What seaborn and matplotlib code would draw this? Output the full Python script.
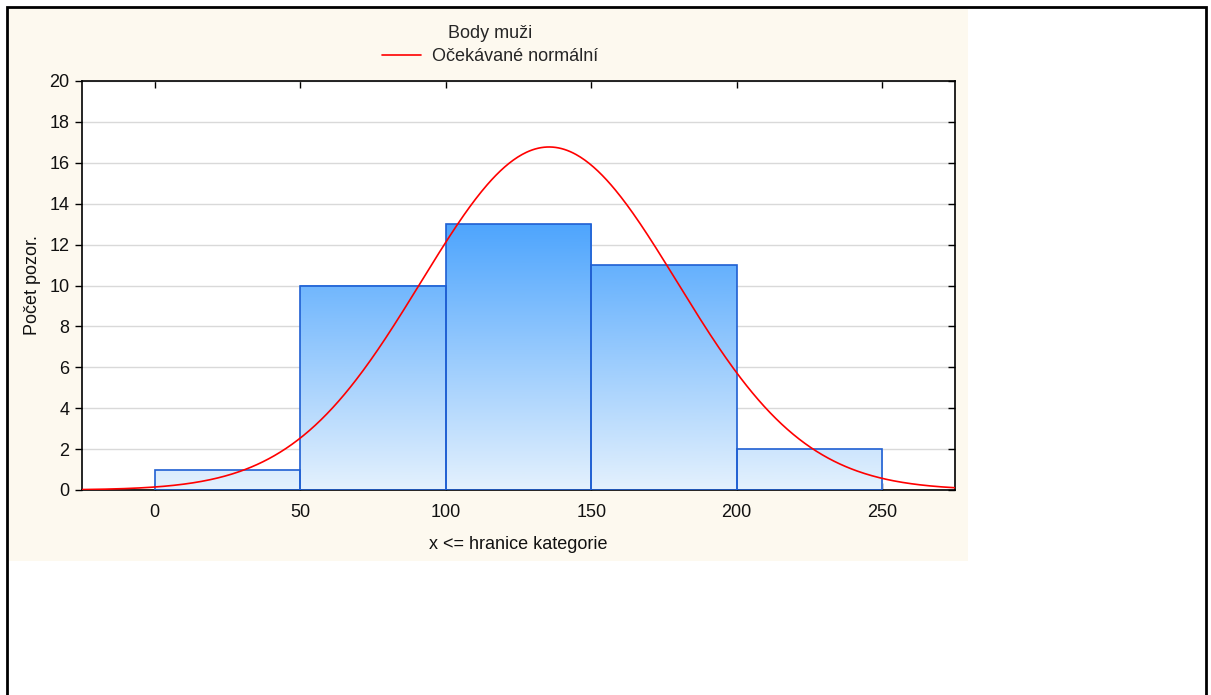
import numpy as np
import pandas as pd
import matplotlib
matplotlib.use("Agg")
import matplotlib.pyplot as plt
from matplotlib.patches import Rectangle
from matplotlib.colors import LinearSegmentedColormap
import seaborn as sns

# ---- data ----
bin_edges = [0, 50, 100, 150, 200, 250]
counts = [1, 10, 13, 11, 2]
n_obs = 37
norm_mean = 135.5
norm_sd = 44.0
x_ticks = [0, 50, 100, 150, 200, 250]
y_ticks = [0, 2, 4, 6, 8, 10, 12, 14, 16, 18, 20]
legend_title = "Body muži"
curve_label = "Očekávané normální"
x_label = "x <= hranice kategorie"
y_label = "Počet pozor."

sns.set_theme(style="white")
plt.rcParams['font.family'] = ['Liberation Sans', 'DejaVu Sans']

W, H = 1211, 695
FS = 13
fig = plt.figure(figsize=(W / 100, H / 100), dpi=100)
fig.patch.set_facecolor("white")

# cream panel + outer border
fig.patches.append(Rectangle((9 / W, 1 - 561 / H), (968 - 9) / W, (561 - 9) / H,
                             transform=fig.transFigure, facecolor="#fdf9ef",
                             edgecolor="none", zorder=-10))
fig.patches.append(Rectangle((7 / W, -0.05), (1206 - 7) / W, 1 - 7 / H + 0.05,
                             transform=fig.transFigure, facecolor="none",
                             edgecolor="black", linewidth=2.0, zorder=10, clip_on=False))

ax = fig.add_axes([82 / W, 1 - 490 / H, (955 - 82) / W, (490 - 81) / H])
ax.set_facecolor("white")

centers = [(bin_edges[i] + bin_edges[i + 1]) / 2 for i in range(len(counts))]
df = pd.DataFrame({"x": centers, "w": counts})
sns.histplot(data=df, x="x", weights="w", bins=bin_edges, ax=ax,
             stat="count", element="bars", fill=True,
             facecolor="none", edgecolor="#1f5fd2", linewidth=1.2, zorder=3)

# gradient fill clipped to bars
cmap = LinearSegmentedColormap.from_list("g", ["#e4f1fd", "#4ea5fd"])
grad = np.linspace(0, 1, 256).reshape(-1, 1)
for p in list(ax.patches):
    im = ax.imshow(grad, cmap=cmap, aspect="auto", origin="lower",
                   extent=[-25, 275, 0, 13], zorder=2, vmin=0, vmax=1)
    im.set_clip_path(p)

# expected normal curve
xs = np.linspace(-25, 275, 600)
ys = n_obs * (bin_edges[1] - bin_edges[0]) / (norm_sd * np.sqrt(2 * np.pi)) * \
    np.exp(-0.5 * ((xs - norm_mean) / norm_sd) ** 2)
sns.lineplot(x=xs, y=ys, ax=ax, color="#ff0000", linewidth=1.2, label=curve_label, zorder=4)

ax.set_xlim(-25, 275)
ax.set_ylim(0, 20)
ax.set_xticks(x_ticks)
ax.set_yticks(y_ticks)
ax.yaxis.grid(True, color="#d9d9d9", linewidth=1)
ax.set_axisbelow(True)
for s in ax.spines.values():
    s.set_color("black")
    s.set_linewidth(1.2)
ax.tick_params(axis="y", which="both", direction="out", length=5, width=1,
               color="black", labelsize=FS, labelcolor="#111111", pad=4,
               right=True, left=True)
ax.tick_params(axis="x", which="both", direction="in", length=5, width=1,
               color="black", labelsize=FS, labelcolor="#111111", pad=10,
               top=True, bottom=True)
# right ticks inside
for t in ax.yaxis.get_major_ticks():
    t.tick2line.set_marker(matplotlib.lines.TICKLEFT)

ax.set_xlabel(x_label, fontsize=FS, color="#111111", labelpad=11)
ax.set_ylabel(y_label, fontsize=FS, color="#111111", labelpad=6)

if ax.legend_:
    ax.legend_.remove()
leg = fig.legend(handles=[ax.lines[0]], labels=[curve_label], title=legend_title,
                 loc="center", bbox_to_anchor=(490 / W, 1 - 45 / H),
                 frameon=False, fontsize=FS, title_fontsize=FS,
                 handlelength=2.2, handletextpad=0.6, borderpad=0, labelspacing=0.2)
leg._legend_box.sep = 5

fig.savefig("out.png", dpi=100)
